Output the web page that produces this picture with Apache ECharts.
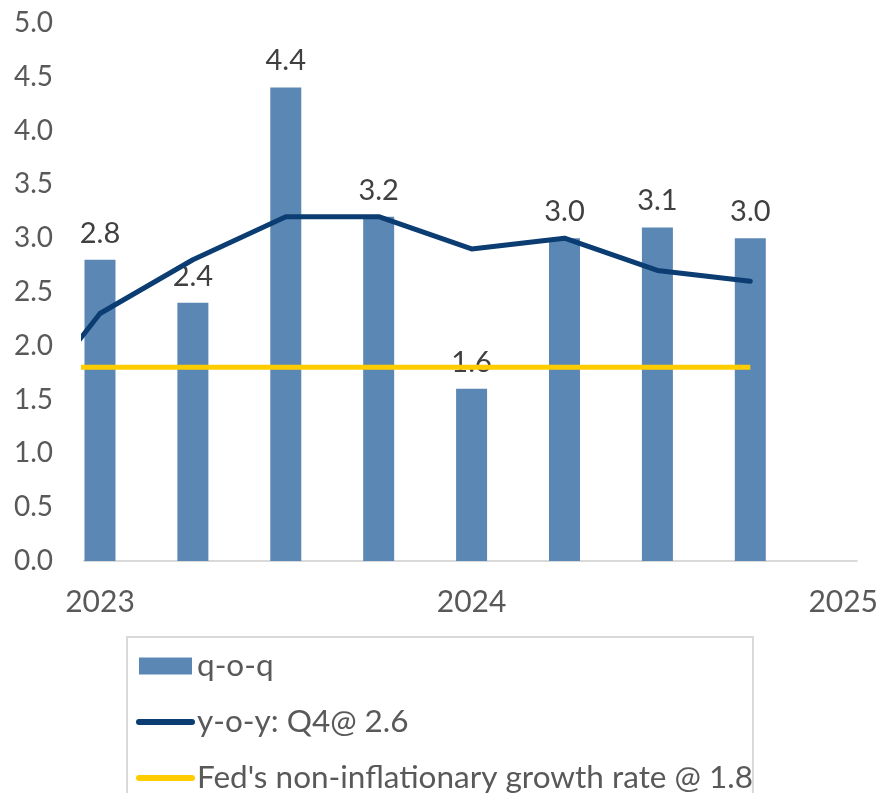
<!DOCTYPE html>
<html>
<head>
<meta charset="utf-8">
<script src="https://cdn.jsdelivr.net/npm/echarts@6/dist/echarts.min.js"></script>
<style>
html,body{margin:0;padding:0;background:#fff;}
#c{width:881px;height:793px;}
</style>
</head>
<body>
<div id="c"></div>
<script>
// Quarter positions (0 = 2023 Q1)
var quarterPos = [0, 1, 2, 3, 4, 5, 6, 7];
var qoqValues = [2.8, 2.4, 4.4, 3.2, 1.6, 3.0, 3.1, 3.0];
// y-o-y line includes 2022 Q4 (position -1)
var yoyPos = [-1, 0, 1, 2, 3, 4, 5, 6, 7];
var yoyValues = [1.2, 2.3, 2.8, 3.2, 3.2, 2.9, 3.0, 2.7, 2.6];
var fedPos = [-1, 7];
var fedValues = [1.8, 1.8];
var yearTickPos = [0, 4, 8];
var yearTickLabels = ['2023', '2024', '2025'];
var seriesNames = ['q-o-q', 'y-o-y: Q4@ 2.6', "Fed's non-inflationary growth rate @ 1.8"];

function pairs(xs, ys) { return xs.map(function (x, i) { return [x, ys[i]]; }); }

var hidden = { color: 'rgba(0,0,0,0)', borderWidth: 0, opacity: 0 };

var chart = echarts.init(document.getElementById('c'));
chart.setOption({
  animation: false,
  backgroundColor: '#ffffff',
  textStyle: { fontFamily: 'Lato' },
  grid: { left: 84, right: 24, top: 23, bottom: 232, containLabel: false },
  xAxis: {
    type: 'value',
    min: -0.172,
    max: 8.148,
    axisLine: { show: true, lineStyle: { color: '#d9d9d9', width: 2 } },
    axisTick: { show: false },
    splitLine: { show: false },
    axisLabel: {
      customValues: yearTickPos,
      showMinLabel: true,
      showMaxLabel: true,
      hideOverlap: false,
      margin: 26,
      fontSize: 30,
      color: '#595959',
      fontFamily: 'Lato',
      formatter: function (v) {
        var i = yearTickPos.indexOf(Math.round(v));
        return i >= 0 ? yearTickLabels[i] : '';
      }
    }
  },
  yAxis: {
    type: 'value',
    min: 0,
    max: 5,
    interval: 0.5,
    axisLine: { show: false },
    axisTick: { show: false },
    splitLine: { show: false },
    axisLabel: {
      margin: 31,
      fontSize: 28,
      color: '#595959',
      fontFamily: 'Lato',
      formatter: function (v) { return v.toFixed(1); }
    }
  },
  legend: {
    orient: 'vertical',
    left: 136,
    top: 650,
    height: 300,
    padding: 0,
    itemWidth: 53,
    itemHeight: 17,
    itemGap: 24,
    textStyle: { fontSize: 31.5, color: '#595959', fontFamily: 'Lato', lineHeight: 30 },
    data: [
      { name: seriesNames[0], icon: 'rect' },
      { name: seriesNames[1], itemStyle: hidden, lineStyle: { width: 6, cap: 'round' } },
      { name: seriesNames[2], itemStyle: hidden, lineStyle: { width: 6, cap: 'round' } }
    ]
  },
  graphic: [{
    type: 'rect',
    shape: { x: 127, y: 637, width: 626, height: 180 },
    style: { fill: 'none', stroke: '#d9d9d9', lineWidth: 2 },
    z: -1
  }],
  series: [
    {
      name: seriesNames[0],
      type: 'bar',
      barWidth: 31,
      data: pairs(quarterPos, qoqValues),
      itemStyle: { color: '#5b87b4' },
      label: {
        show: true,
        position: 'top',
        distance: 12,
        fontSize: 29,
        color: '#404040',
        fontFamily: 'Lato',
        formatter: function (p) { return p.value[1].toFixed(1); }
      },
      z: 1
    },
    {
      name: seriesNames[1],
      type: 'line',
      data: pairs(yoyPos, yoyValues),
      symbol: 'none',
      clip: true,
      lineStyle: { color: '#0b3d73', width: 5, join: 'round', cap: 'round' },
      itemStyle: { color: '#0b3d73' },
      z: 3
    },
    {
      name: seriesNames[2],
      type: 'line',
      data: pairs(fedPos, fedValues),
      symbol: 'none',
      clip: true,
      lineStyle: { color: '#ffcc00', width: 5 },
      itemStyle: { color: '#ffcc00' },
      z: 2
    }
  ]
});
</script>
</body>
</html>
